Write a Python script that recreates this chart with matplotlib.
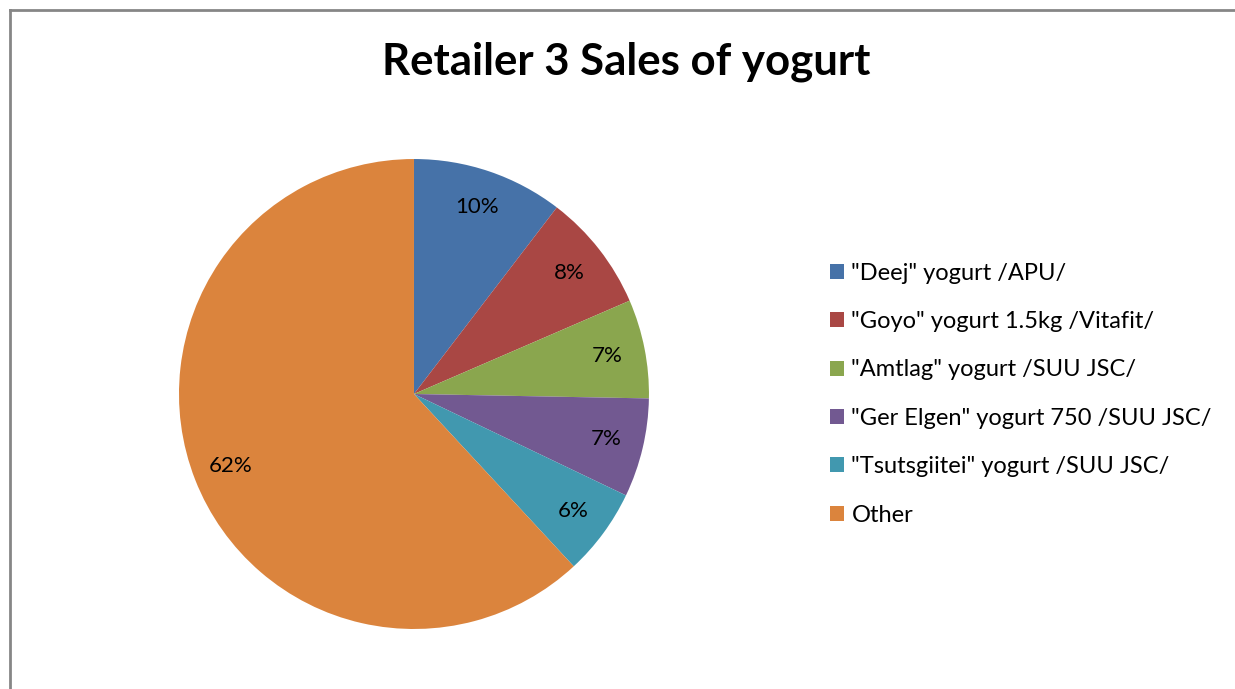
import matplotlib.pyplot as plt
from matplotlib.lines import Line2D

labels = ['"Deej" yogurt /APU/', '"Goyo" yogurt 1.5kg /Vitafit/',
          '"Amtlag" yogurt /SUU JSC/', '"Ger Elgen" yogurt 750 /SUU JSC/',
          '"Tsutsgiitei" yogurt /SUU JSC/', 'Other']
shares = [10.4, 8.1, 6.8, 6.8, 6.0, 61.9]
colors = ['#4672a8', '#a94744', '#8aa64e', '#725991', '#4198af', '#db843d']

plt.rcParams['font.family'] = ['Lato', 'DejaVu Sans']

fig = plt.figure(figsize=(12.35, 6.89), dpi=100)
ax = fig.add_axes([0.1449, 0.0871, 0.3806, 0.6821])

wedges, texts, autotexts = ax.pie(shares, colors=colors, startangle=90,
                                  counterclock=False, autopct='%1.0f%%',
                                  pctdistance=0.84,
                                  textprops={'fontsize': 16, 'color': 'black'})
ax.set_xlim(-1, 1)
ax.set_ylim(-1, 1)
ax.set_aspect('equal')

fig.text(0.507, 0.91, 'Retailer 3 Sales of yogurt', ha='center', va='center',
         fontsize=31.5, fontweight='bold')

fig.legend(wedges, labels, loc='center left', bbox_to_anchor=(0.655, 0.428),
           frameon=False, fontsize=17, handlelength=0.6, handleheight=0.6,
           handletextpad=0.3, labelspacing=1.16)

# chart area border (left and top edges visible)
fig.add_artist(Line2D([0.0077, 0.0077], [0, 0.9855], transform=fig.transFigure,
                      color='#868686', lw=2))
fig.add_artist(Line2D([0.0077, 1], [0.9855, 0.9855], transform=fig.transFigure,
                      color='#868686', lw=2))

plt.savefig('out.png', dpi=100)
plt.close(fig)
